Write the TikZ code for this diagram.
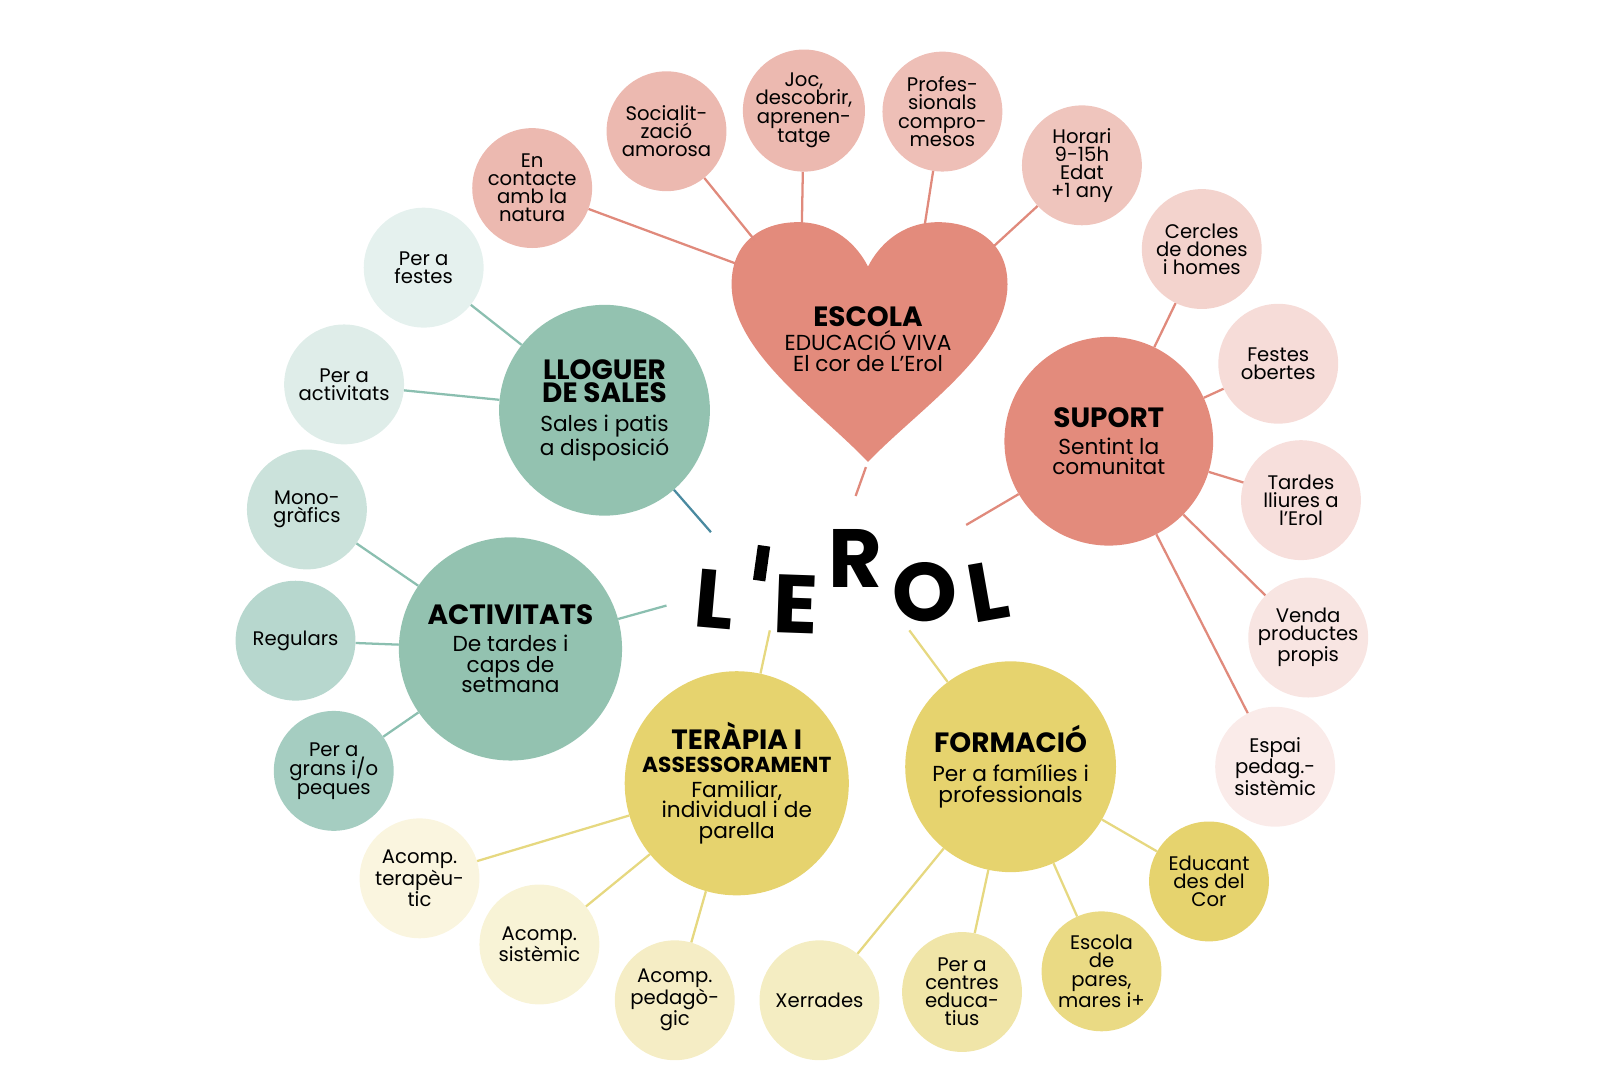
\documentclass[tikz,border=0pt]{standalone}
\usepackage{fontspec}
\setmainfont{Poppins}
\newcommand{\ttlf}{\fontsize{27}{25}\selectfont\bfseries}
\begin{document}
\begin{tikzpicture}[x=1pt,y=-1pt,
  sm/.style={circle,minimum size=116pt,inner sep=0pt,align=center,font=\fontsize{19}{17.5}\selectfont},
  big/.style={circle,inner sep=0pt,align=center,font=\fontsize{21}{20}\selectfont},
  pl/.style={draw=pinkL,line width=2.2pt},
  tl/.style={draw=tealL,line width=2.2pt},
  yl/.style={draw=yelL,line width=2.2pt},
  let/.style={font=\fontsize{80}{80}\selectfont\bfseries,inner sep=0pt}]
\definecolor{pinkL}{HTML}{E08A7C}\definecolor{tealL}{HTML}{8BBFB0}\definecolor{yelL}{HTML}{E6D880}
\definecolor{pinkM}{HTML}{E38B7C}\definecolor{teal}{HTML}{93C2B0}\definecolor{yel}{HTML}{E6D36E}
\definecolor{blueL}{HTML}{4A8AA0}
\useasboundingbox (0,0) rectangle (1560,1055);
\coordinate (cE) at (828,480);
\coordinate (cS) at (935,508);
\coordinate (cL) at (688,515);
\coordinate (cA) at (645,586);
\coordinate (cT) at (745,610);
\coordinate (cF) at (880,610);
% heart
\path[fill=pinkM] (840,447) .. controls (790,395) and (708,340) .. (708,275)
  .. controls (708,232) and (740,215) .. (772,215) .. controls (808,215) and (830,238) .. (840,258)
  .. controls (850,238) and (872,215) .. (908,215) .. controls (940,215) and (975,232) .. (975,275)
  .. controls (975,340) and (890,395) .. (840,447) -- cycle;
\coordinate (h1) at (712,255);\coordinate (h2) at (730,232);\coordinate (h3) at (776,217);
\coordinate (h4) at (895,217);\coordinate (h5) at (962,238);\coordinate (h0) at (838,452);
\node[sm,fill=pinkL!60] (e1) at (515,182) {En\\contacte\\amb la\\natura};
\node[sm,fill=pinkL!60] (e2) at (645,127) {Socialit-\\zació\\amorosa};
\node[sm,fill=pinkL!60] (e3) at (778,107) {Joc,\\descobrir,\\aprenen-\\tatge};
\node[sm,fill=pinkL!55] (e4) at (912,108) {Profes-\\sionals\\compro-\\mesos};
\node[sm,fill=pinkL!50] (e5) at (1047,160) {Horari\\9-15h\\Edat\\+1 any};
\draw[pl] (e1) -- (h1); \draw[pl] (e2) -- (h2); \draw[pl] (e3) -- (h3);
\draw[pl] (e4) -- (h4); \draw[pl] (e5) -- (h5);
\draw[pl] (h0) -- (cE);
\node[align=center,font=\fontsize{21}{20}\selectfont] (esc) at (840,328) {{\ttlf ESCOLA}\\[4pt]EDUCACIÓ VIVA\\El cor de L'Erol};
% SUPORT
\node[big,minimum size=202pt,fill=pinkM] (S) at (1073,427) {{\ttlf SUPORT}\\[6pt]Sentint la\\comunitat};
\node[sm,fill=pinkL!38] (s1) at (1163,241) {Cercles\\de dones\\i homes};
\node[sm,fill=pinkL!30] (s2) at (1237,352) {Festes\\obertes};
\node[sm,fill=pinkL!27] (s3) at (1259,484) {Tardes\\lliures a\\l'Erol};
\node[sm,fill=pinkL!22] (s4) at (1266,617) {Venda\\productes\\propis};
\node[sm,fill=pinkL!17] (s5) at (1234,742) {Espai\\pedag.-\\sistèmic};
\foreach \n in {s1,s2,s3,s4,s5} \draw[pl] (S) -- (\n);
\draw[pl] (cS) -- (S);
% LLOGUER
\node[big,minimum size=204pt,fill=teal] (L) at (585,397) {{\ttlf LLOGUER}\\[3pt]{\ttlf DE SALES}\\[8pt]Sales i patis\\a disposició};
\node[sm,fill=tealL!22] (l1) at (410,259) {Per a\\festes};
\node[sm,fill=tealL!28] (l2) at (333,372) {Per a\\activitats};
\draw[tl] (l1) -- (L); \draw[tl] (l2) -- (L);
\draw[draw=blueL,line width=2.2pt] (L) -- (cL);
% ACTIVITATS
\node[big,minimum size=216pt,fill=teal] (A) at (494,628) {{\ttlf ACTIVITATS}\\[6pt]De tardes i\\caps de\\setmana};
\node[sm,fill=tealL!45] (a1) at (297,493) {Mono-\\gràfics};
\node[sm,fill=tealL!62] (a2) at (286,620) {Regulars};
\node[sm,fill=tealL!78] (a3) at (323,746) {Per a\\grans i/o\\peques};
\draw[tl] (a1) -- (A); \draw[tl] (a2) -- (A); \draw[tl] (a3) -- (A);
\draw[tl] (A) -- (cA);
% TERAPIA
\node[big,minimum size=216pt,fill=yel] (T) at (713,758) {{\ttlf TERÀPIA I}\\[2pt]{\fontsize{21}{22}\selectfont\bfseries ASSESSORAMENT}\\[4pt]Familiar,\\individual i de\\parella};
\node[sm,fill=yel!22] (t1) at (406,850) {Acomp.\\terapèu-\\tic};
\node[sm,fill=yel!28] (t2) at (522,914) {Acomp.\\sistèmic};
\node[sm,fill=yel!40] (t3) at (653,968) {Acomp.\\pedagò-\\gic};
\draw[yl] (t1) -- (T); \draw[yl] (t2) -- (T); \draw[yl] (t3) -- (T);
\draw[yl] (T) -- (cT);
% FORMACIO
\node[big,minimum size=204pt,fill=yel] (F) at (978,742) {{\ttlf FORMACIÓ}\\[8pt]Per a famílies i\\professionals};
\node[sm,fill=yel!42] (f1) at (793,968) {Xerrades};
\node[sm,fill=yel!60] (f2) at (931,960) {Per a\\centres\\educa-\\tius};
\node[sm,fill=yel!85] (f3) at (1066,940) {Escola\\de\\pares,\\mares i+};
\node[sm,fill=yel] (f4) at (1170,853) {Educant\\des del\\Cor};
\foreach \n in {f1,f2,f3,f4} \draw[yl] (F) -- (\n);
\draw[yl] (F) -- (cF);
% title
\node[let,rotate=-5] (tL) at (692,580) {L};
\fill[rotate around={-8:(737,545)}] (731,528) rectangle (743,562);
\node[let,rotate=-2] (tE) at (770,585) {E};
\node[let] (tR) at (828,540) {R};
\node[let,rotate=4] (tO) at (895,573) {O};
\node[let,rotate=10] (tL2) at (956,572) {L};
\end{tikzpicture}
\end{document}
